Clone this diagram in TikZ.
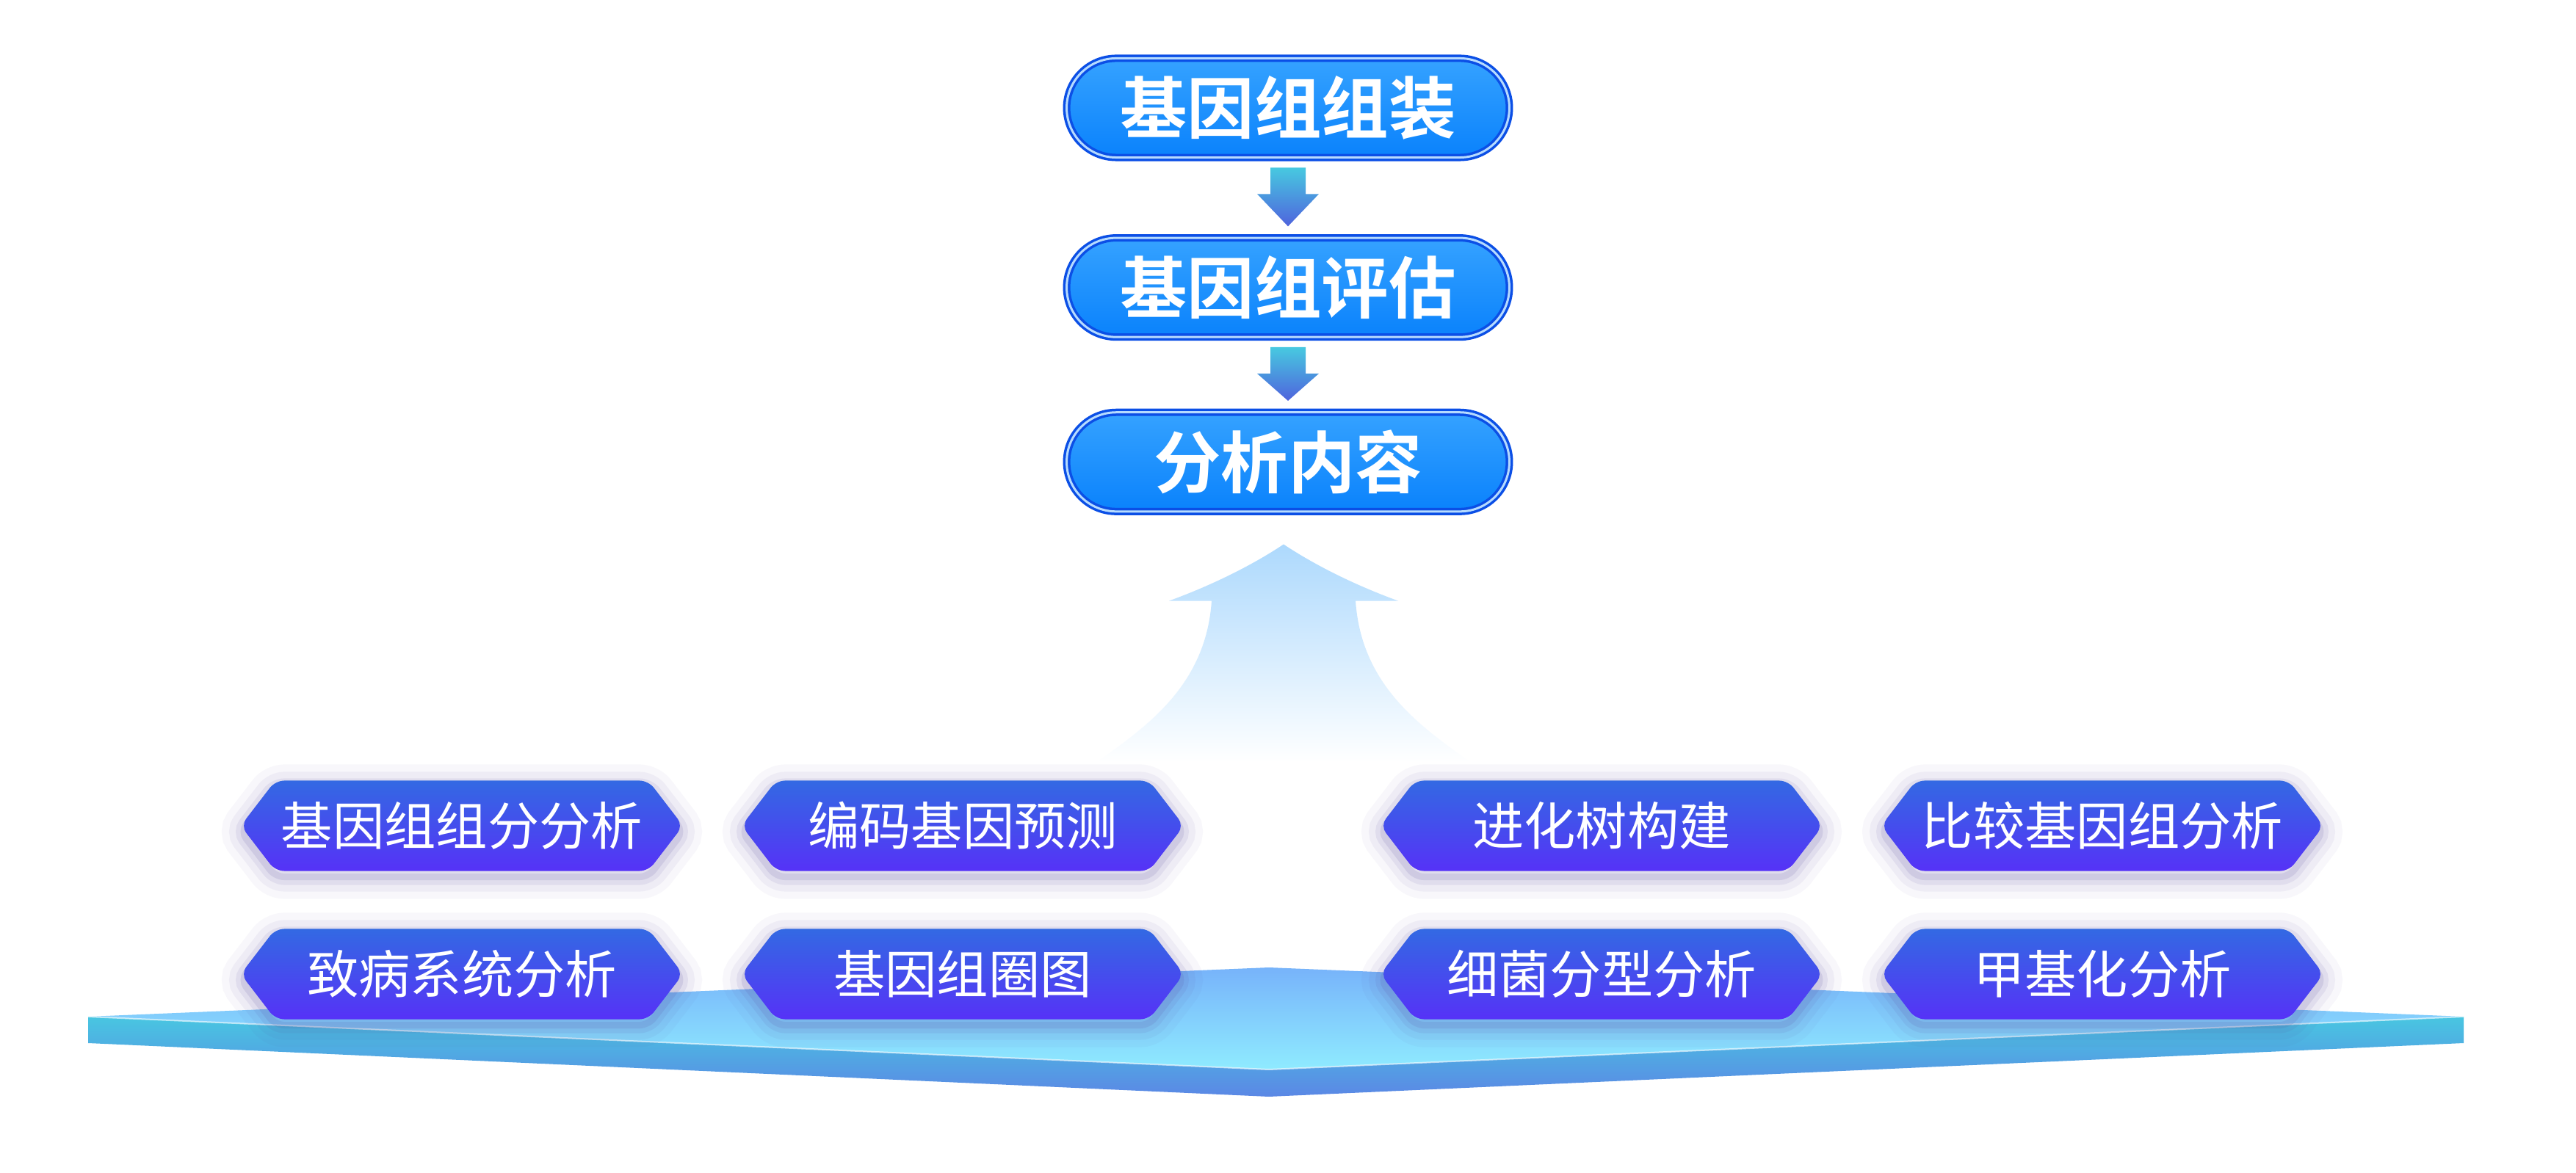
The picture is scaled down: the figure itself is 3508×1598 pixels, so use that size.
\documentclass[tikz,border=0pt]{standalone}
\usepackage{fontspec}
\newfontfamily\cjk{Noto Sans CJK SC}[BoldFont={Noto Sans CJK SC Bold}]
\usetikzlibrary{shapes.misc,shapes.symbols,calc,positioning}
\definecolor{pilltop}{HTML}{35A2FF}
\definecolor{pillfill}{HTML}{0A82FC}
\definecolor{pillrim}{HTML}{0B4FE6}
\definecolor{pillring}{HTML}{B5DBFF}
\definecolor{arrtop}{HTML}{47C9E0}
\definecolor{arrbot}{HTML}{4F63DD}
\definecolor{lifttop}{HTML}{ADD9FD}
\definecolor{liftmid}{HTML}{BEEDFE}
\definecolor{hextop}{HTML}{3369E3}
\definecolor{hexbot}{HTML}{5632F7}
\definecolor{glow}{HTML}{5A4C9E}
\definecolor{platback}{HTML}{77B3FA}
\definecolor{platfront}{HTML}{8FEBFF}
\definecolor{bandtop}{HTML}{48C6E1}
\definecolor{bandbot}{HTML}{5B87E5}
\tikzset{
  pill/.style={rounded rectangle,minimum width=6.26cm,minimum height=1.35cm,
    draw=pillrim,line width=0.35mm,double=pillring,double distance=0.3mm,
    top color=pilltop,bottom color=pillfill,text=white,
    font=\cjk\bfseries\fontsize{26pt}{30pt}\selectfont},
  hexa/.style={signal,signal to=east and west,signal pointer angle=105,
    minimum width=6.02cm,minimum height=1.23cm,inner sep=0pt,rounded corners=1.2mm,
    top color=hextop,bottom color=hexbot,text=white,
    font=\cjk\fontsize{20pt}{24pt}\selectfont,
    preaction={draw=glow,line width=6mm,draw opacity=0.04,transform canvas={yshift=-0.8mm}},
    preaction={draw=glow,line width=4mm,draw opacity=0.06,transform canvas={yshift=-0.8mm}},
    preaction={draw=glow,line width=2.2mm,draw opacity=0.09,transform canvas={yshift=-0.8mm}},
    preaction={draw=glow,line width=0.9mm,draw opacity=0.13,transform canvas={yshift=-0.8mm}}},
  flow/.style={top color=arrtop,bottom color=arrbot},
  lift/.style={top color=lifttop,middle color=liftmid,bottom color=white},
}
\begin{document}
\begin{tikzpicture}[x=0.01cm,y=-0.01cm]
  \fill[white] (0,0) rectangle (3508,1598);
  \useasboundingbox (0,0) rectangle (3508,1598);
  % ---------- pipeline ----------
  \node[pill] (asm) at (1754,147) {基因组组装};
  \node[pill,below=1.06cm of asm] (eval) {基因组评估};
  \node[pill,below=0.99cm of eval] (ana) {分析内容};
  \foreach \a/\b in {asm/eval,eval/ana}
    \shade[flow] ($(\a.south)+(-24,12)$) -- ++(48,0) -- ++(0,36) -- ++(18,0)
      -- ($(\b.north)+(0,-14)$) -- ($(\a.south)+(-42,48)$) -- ++(18,0) -- cycle;
  % ---------- rising arrow ----------
  \shade[lift] ($(ana.south)+(-6,43)$) .. controls +(-45,30) and +(55,-20) .. ($(ana.south)+(-162,120)$)
    -- ++(58,0) .. controls +(-8,120) and +(60,-45) .. ($(ana.south)+(-260,340)$)
    -- ($(ana.south)+(248,340)$) .. controls +(-60,-45) and +(8,120) .. ($(ana.south)+(92,120)$)
    -- ++(58,0) .. controls +(-55,-20) and +(45,30) .. cycle;
  % ---------- platform ----------
  \shade[top color=platback,bottom color=platfront] (120,1385) -- (1728,1318) -- (3355,1385) -- (1728,1457) -- cycle;
  \shade[top color=bandtop,bottom color=bandbot] (120,1385) -- (1728,1457) -- (3355,1385)
    -- (3355,1421) -- (1728,1494) -- (120,1421) -- cycle;
  \draw[white,opacity=0.6,line width=0.2mm] (120,1385) -- (1728,1457) -- (3355,1385);
  % ---------- analyses ----------
  \foreach \nm/\px/\py/\txt in {comp/629/1125/基因组组分分析, gene/1311/1125/编码基因预测,
      tree/2181/1125/进化树构建, compar/2863/1125/比较基因组分析,
      patho/629/1327/致病系统分析, circos/1311/1327/基因组圈图,
      typing/2181/1327/细菌分型分析, methyl/2863/1327/甲基化分析}
    \node[hexa] (\nm) at (\px,\py) {\txt};
\end{tikzpicture}
\end{document}
